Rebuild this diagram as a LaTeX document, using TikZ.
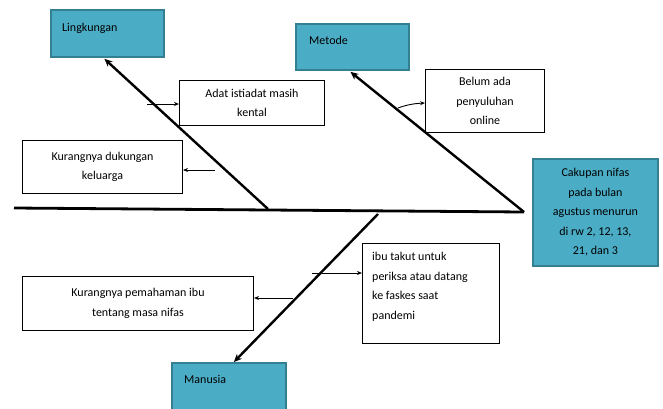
\documentclass[tikz,border=0pt]{standalone}
\usepackage{fontspec}
\setmainfont{Carlito}
\usetikzlibrary{arrows.meta,calc}
\definecolor{teal1}{HTML}{4BACC6}
\definecolor{teal2}{HTML}{357F92}
\begin{document}
\begin{tikzpicture}[x=1pt,y=-1pt,
  every node/.style={font=\fontsize{12}{19.5}\selectfont},
  catbox/.style={draw=teal2,line width=1.8pt,fill=teal1,anchor=north west,inner sep=0pt},
  causebox/.style={draw=black,line width=1pt,fill=white,anchor=north west,inner sep=0pt,align=center},
  bone/.style={line width=2.4pt,-{Stealth[length=8pt,width=7pt]}},
  spine/.style={line width=2.8pt},
  small/.style={line width=0.9pt,-{Stealth[length=5pt,width=4pt]}},
  lbl/.style={anchor=north west,inner sep=0pt,align=left}]
\useasboundingbox (0,0) rectangle (663,408);
\begin{scope}
\clip (0,0) rectangle (663,408);
% category boxes
\node[catbox,minimum width=113pt,minimum height=47pt] (ling) at (50,9) {};
\node[lbl] at (62,23) {Lingkungan};
\node[catbox,minimum width=113pt,minimum height=46pt] (met) at (295,23) {};
\node[lbl] at (309,36) {Metode};
\node[catbox,minimum width=114pt,minimum height=60pt] (man) at (171,362) {};
\node[lbl] at (184,375) {Manusia};
\node[catbox,minimum width=125pt,minimum height=107pt,align=center] (eff) at (532,158) {Cakupan nifas\\pada bulan\\agustus menurun\\di rw 2, 12, 13,\\21, dan 3};
% cause boxes
\node[causebox,minimum width=145pt,minimum height=45pt] (adat) at (179,80) {Adat istiadat masih\\kental};
\node[causebox,minimum width=160pt,minimum height=53pt] (duk) at (22,140) {Kurangnya dukungan\\keluarga};
\node[causebox,minimum width=119pt,minimum height=63pt] (bel) at (425,69) {Belum ada\\penyuluhan\\online};
\node[causebox,minimum width=137pt,minimum height=100pt] (ibu) at (362,243) {};
\node[lbl] at (372,252) {ibu takut untuk\\periksa atau datang\\ke faskes saat\\pandemi};
\node[causebox,minimum width=231pt,minimum height=54pt] (pem) at (22,276) {Kurangnya pemahaman ibu\\tentang masa nifas};
% spine and bones
\coordinate (s0) at (14,208);
\coordinate (head) at (524,212);
\coordinate (l0) at (268,209);
\coordinate (m0) at (378,214);
\draw[spine] (s0) -- (head);
\draw[bone] (l0) -- ($(ling.south)+(-3,1)$);
\draw[bone] (head) -- ($(met.south)+(-2,1)$);
\draw[bone] (m0) -- ($(man.north)+(5,0)$);
% small arrows
\coordinate (a1) at (147,104);
\coordinate (a2) at (215,170);
\coordinate (a3) at (398,108);
\coordinate (a4) at (312,273);
\coordinate (a5) at (293,298);
\draw[small] (a1) -- (a1 -| adat.west);
\draw[small] (a2) -- (a2 -| duk.east);
\draw[small] (a3) .. controls (406,105) and (414,103.5) .. (bel.west |- 0,103);
\draw[small] (a4) -- (a4 -| ibu.west);
\draw[small] (a5) -- (a5 -| pem.east);
\end{scope}
\end{tikzpicture}
\end{document}
